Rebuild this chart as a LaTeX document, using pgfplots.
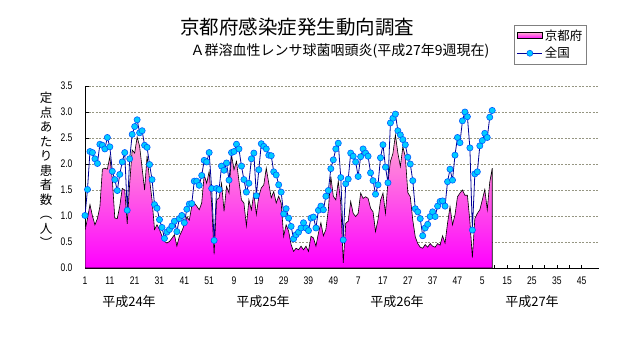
\documentclass[border=0pt]{standalone}
\usepackage{pgfplots}
\pgfplotsset{compat=1.18}
\usepackage{fontspec}
\setmainfont{Noto Sans CJK JP}
\newfontfamily\narrow[FakeStretch=0.78]{Liberation Sans}
\definecolor{navyline}{RGB}{0,0,150}
\definecolor{cyanmk}{RGB}{0,204,255}
\definecolor{mkborder}{RGB}{0,90,255}
\definecolor{kyotop}{RGB}{255,165,210}
\definecolor{kyobot}{RGB}{255,0,255}
\definecolor{gridc}{RGB}{150,150,130}
\pgfplotstableread{
i v
1 0.72
2 0.95
3 1.22
4 1.00
5 0.83
6 0.95
7 1.18
8 1.90
9 1.92
10 1.90
11 2.14
12 1.70
13 0.96
14 0.95
15 1.19
16 1.53
17 1.50
18 0.85
19 1.63
20 2.27
21 2.21
22 2.52
23 2.34
24 1.92
25 1.50
26 2.16
27 1.70
28 1.31
29 0.74
30 0.83
31 0.74
32 0.61
33 0.51
34 0.48
35 0.51
36 0.57
37 0.64
38 0.42
39 0.61
40 0.71
41 0.83
42 0.98
43 0.92
44 1.19
45 1.25
46 1.19
47 1.12
48 1.25
49 1.79
50 1.63
51 1.86
52 1.25
53 0.26
54 1.31
55 1.35
56 1.63
57 1.09
58 1.57
59 1.44
60 2.18
61 1.89
62 2.05
63 1.67
64 1.31
65 1.25
66 0.81
67 1.31
68 1.12
69 1.44
70 1.03
71 1.38
72 1.54
73 1.60
74 1.92
75 1.63
76 1.35
77 1.47
78 1.25
79 1.38
80 1.25
81 0.61
82 0.83
83 0.71
84 0.45
85 0.32
86 0.38
87 0.35
88 0.42
89 0.35
90 0.42
91 0.32
92 0.61
93 0.58
94 0.42
95 0.67
96 0.87
97 0.62
98 0.74
99 1.12
100 1.76
101 1.38
102 1.31
103 1.67
104 1.25
105 0.10
106 0.86
107 0.90
108 1.28
109 1.05
110 0.99
111 1.05
112 1.44
113 1.34
114 1.37
115 1.34
116 1.15
117 1.08
118 0.70
119 0.93
120 1.30
121 1.44
122 1.05
123 1.65
124 2.05
125 2.20
126 2.56
127 2.21
128 1.95
129 2.33
130 2.14
131 1.45
132 1.37
133 0.92
134 0.60
135 0.47
136 0.40
137 0.38
138 0.45
139 0.40
140 0.47
141 0.42
142 0.40
143 0.47
144 0.44
145 0.62
146 0.48
147 0.86
148 1.18
149 0.83
150 1.02
151 1.37
152 1.44
153 1.50
154 1.40
155 1.40
156 0.90
157 0.20
158 0.95
159 1.05
160 1.12
161 1.31
162 1.51
163 1.12
164 1.65
165 1.92
}\kyoto
\pgfplotstableread{
i v
1 1.01
2 1.51
3 2.24
4 2.22
5 2.10
6 2.01
7 2.38
8 2.36
9 2.29
10 2.51
11 2.33
12 1.86
13 1.70
14 1.49
15 1.80
16 2.04
17 2.22
18 1.11
19 2.10
20 2.57
21 2.72
22 2.85
23 2.60
24 2.64
25 2.36
26 2.32
27 1.99
28 1.70
29 1.22
30 1.15
31 0.93
32 0.78
33 0.57
34 0.69
35 0.74
36 0.81
37 0.90
38 0.70
39 0.95
40 1.01
41 0.87
42 1.13
43 1.23
44 1.24
45 1.67
46 1.67
47 1.59
48 1.78
49 2.07
50 2.04
51 2.22
52 1.53
53 0.53
54 1.53
55 1.51
56 1.96
57 1.88
58 2.02
59 1.69
60 2.22
61 2.24
62 2.38
63 2.29
64 1.96
65 1.70
66 1.46
67 1.63
68 2.10
69 2.21
70 1.39
71 1.89
72 2.39
73 2.34
74 2.29
75 2.17
76 2.16
77 1.85
78 1.79
79 1.60
80 1.46
81 1.04
82 1.14
83 0.96
84 0.80
85 0.56
86 0.64
87 0.69
88 0.77
89 0.87
90 0.77
91 0.72
92 0.96
93 0.98
94 0.77
95 1.11
96 1.19
97 1.12
98 1.38
99 1.49
100 1.91
101 2.08
102 2.29
103 2.40
104 1.74
105 0.54
106 1.62
107 1.71
108 2.21
109 2.15
110 2.04
111 1.76
112 2.14
113 2.29
114 2.21
115 2.15
116 1.83
117 1.68
118 1.42
119 1.60
120 2.12
121 2.37
122 1.94
123 1.64
124 2.79
125 2.88
126 2.96
127 2.64
128 2.56
129 2.47
130 2.37
131 2.13
132 2.00
133 1.68
134 1.14
135 1.08
136 0.95
137 0.62
138 0.77
139 0.84
140 0.99
141 1.08
142 0.99
143 1.19
144 1.28
145 1.29
146 1.19
147 1.66
148 1.90
149 1.69
150 2.17
151 2.51
152 2.41
153 2.83
154 3.00
155 2.91
156 2.31
157 0.73
158 1.81
159 1.85
160 2.35
161 2.45
162 2.59
163 2.51
164 2.90
165 3.03
}\zenkoku
\begin{document}
\begin{tikzpicture}[x=1bp,y=1bp]
\useasboundingbox (0,0) rectangle (631,347);
\begin{axis}[
  at={(85bp,79bp)}, anchor=south west,
  scale only axis, width=514bp, height=182bp,
  xmin=1, xmax=208, ymin=0, ymax=3.5,
  axis x line*=bottom, axis y line*=left,
  axis line style={black, line width=0.8bp, -},
  xtick={1,11,...,201},
  xticklabels={1,11,21,31,41,51,9,19,29,39,49,7,17,27,37,47,5,15,25,35,45},
  minor x tick num=1,
  ytick={0,0.5,...,3.5},
  /pgf/number format/fixed,
  /pgf/number format/fixed zerofill,
  /pgf/number format/precision=1,
  /pgf/number format/assume math mode=true,
  ticklabel style={font=\narrow\fontsize{11bp}{12bp}\selectfont},
  xticklabel style={yshift=-5bp},
  yticklabel style={xshift=-9bp},
  tick align=inside,
  major tick length=3.5bp, minor tick length=3.5bp,
  tick style={black, line width=0.6bp},
  ymajorgrids,
  grid style={gridc, dash pattern=on 2bp off 1.5bp, line width=0.6bp},
  legend style={at={(0.835,1.335)}, anchor=north west, draw=gray, line width=0.5bp,
    font=\fontsize{12.5bp}{14bp}\selectfont, row sep=1.5bp, inner sep=2.5bp},
  legend cell align=left,
]
\addplot[draw=black, line width=0.6bp, top color=kyotop, bottom color=kyobot,
  legend image code/.code={\draw[black, line width=0.6bp, fill=kyobot!70!white] (0bp,-3bp) rectangle (25bp,3bp);}]
  table[x=i, y=v] {\kyoto} \closedcycle;
\addlegendentry{京都府}
\addplot[navyline, line width=0.8bp, mark=*, mark size=3.1bp,
  mark options={fill=cyanmk, draw=mkborder, line width=0.6bp},
  legend image code/.code={\draw[navyline, line width=0.8bp] (0bp,0bp) -- (25bp,0bp); \draw[mkborder, fill=cyanmk, line width=0.6bp] (12.5bp,0bp) circle (3bp);}]
  table[x=i, y=v] {\zenkoku};
\addlegendentry{全国}
\end{axis}
\node[font=\fontsize{19.5bp}{22bp}\selectfont] at (297,320) {京都府感染症発生動向調査};
\node[font=\fontsize{14bp}{16bp}\selectfont] at (340,296) {Ａ群溶血性レンサ球菌咽頭炎(平成27年9週現在)};
\node[align=center, font=\fontsize{12.5bp}{14.5bp}\selectfont] at (46,177) {定\\点\\あ\\た\\り\\患\\者\\数\\︵\\人\\︶};
\foreach \xx/\yy in {129/24, 263/25, 397/26, 532/27}
  \node[font=\fontsize{13bp}{15bp}\selectfont] at (\xx,45) {平成\yy 年};
\end{tikzpicture}
\end{document}
